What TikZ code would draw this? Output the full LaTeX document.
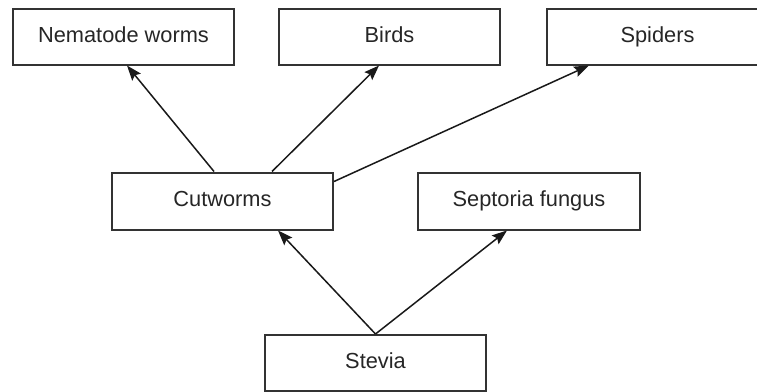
\documentclass[tikz,border=0pt]{standalone}
\usepackage{fontspec}
\setmainfont{Liberation Sans}
\usetikzlibrary{arrows.meta}
\begin{document}
\begin{tikzpicture}[x=1pt,y=-1pt,
  box/.style={draw=black!80,line width=2pt,minimum width=221pt,minimum height=56pt,inner sep=0pt,text height=15.5pt,text depth=4.5pt,font=\fontsize{21.8}{26}\selectfont,text=black!85},
  conn/.style={line width=1.5pt,draw=black!90,-{Stealth[length=15pt,width=11pt,inset=2.5pt]}}]
\useasboundingbox (0,0) rectangle (757,391);
\node[box] (nem) at (123.5,36.5) {Nematode worms};
\node[box] (birds) at (389.5,36.5) {Birds};
\node[box] (spiders) at (657.5,36.5) {Spiders};
\node[box,minimum height=57pt] (cut) at (222.5,201) {Cutworms};
\node[box,minimum width=222pt,minimum height=57pt] (sep) at (529,201) {Septoria fungus};
\node[box] (stevia) at (375.5,363) {Stevia};
\draw[conn] ([xshift=103pt]cut.north west) -- ([xshift=115pt]nem.south west);
\draw[conn] ([xshift=161pt]cut.north west) -- ([xshift=101pt]birds.south west);
\draw[conn] ([yshift=-10pt]cut.north east) -- ([xshift=43pt]spiders.south west);
\draw[conn] (stevia.north) -- ([xshift=167pt]cut.south west);
\draw[conn] (stevia.north) -- ([xshift=90pt]sep.south west);
\end{tikzpicture}
\end{document}
